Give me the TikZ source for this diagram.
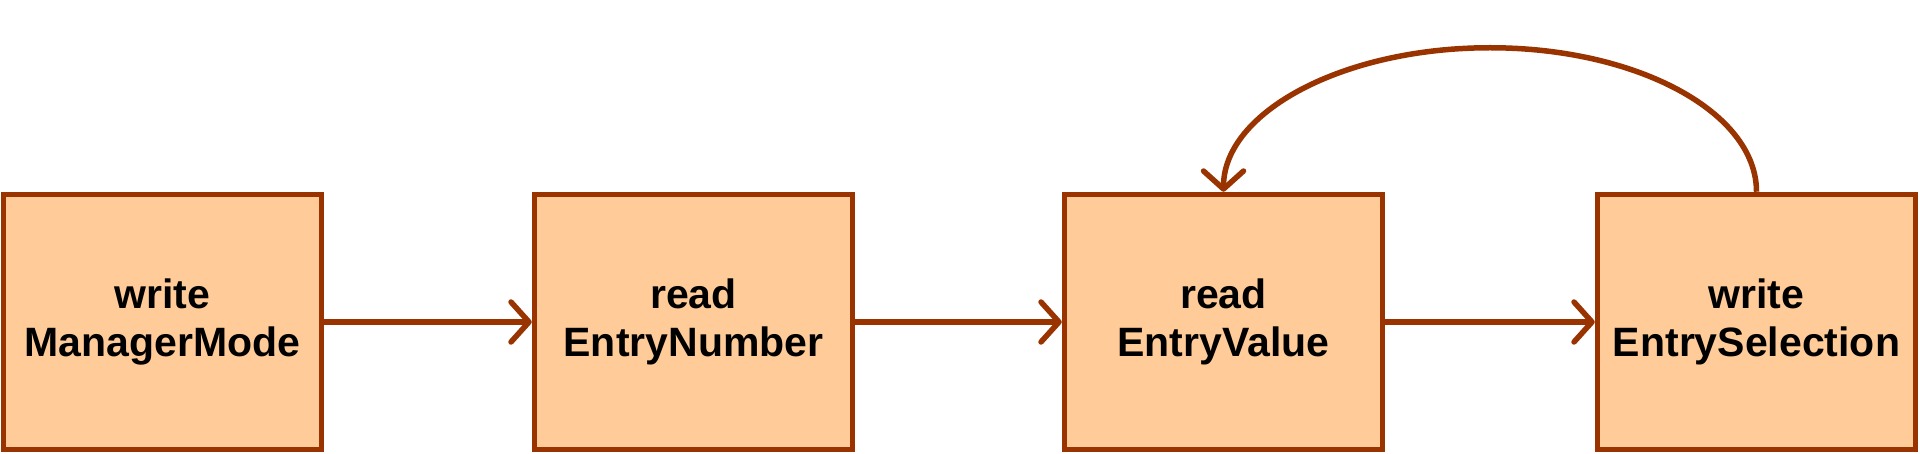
\documentclass[tikz,border=0pt]{standalone}
\usepackage{fontspec}
\setmainfont{Liberation Sans}
\usetikzlibrary{arrows.meta}
\definecolor{boxfill}{HTML}{FFCC99}
\definecolor{boxline}{HTML}{993300}
\begin{document}
\begin{tikzpicture}[x=1pt,y=1pt,
  actbox/.style={draw=boxline, fill=boxfill, line width=5.5pt, rectangle,
    minimum width=318pt, minimum height=255pt, inner sep=0pt, align=center,
    font=\fontsize{41pt}{48pt}\selectfont\bfseries},
  flow/.style={draw=boxline, line width=5.5pt,
    -{Straight Barb[length=18pt, width=40pt, line width=5.5pt, round]}}]
\useasboundingbox[fill=white] (0,0) rectangle (1920,453);
\node[actbox] (b1) at (162.5,131) {write\\ManagerMode};
\node[actbox] (b2) at (693.5,131) {read\\EntryNumber};
\node[actbox] (b3) at (1223.5,131) {read\\EntryValue};
\node[actbox] (b4) at (1756.5,131) {write\\EntrySelection};
\draw[flow] (b1) -- (b2);
\draw[flow] (b2) -- (b3);
\draw[flow] (b3) -- (b4);
\draw[flow] (b4.north) arc[start angle=0, end angle=180, x radius=266.5pt, y radius=144pt];
\end{tikzpicture}
\end{document}
